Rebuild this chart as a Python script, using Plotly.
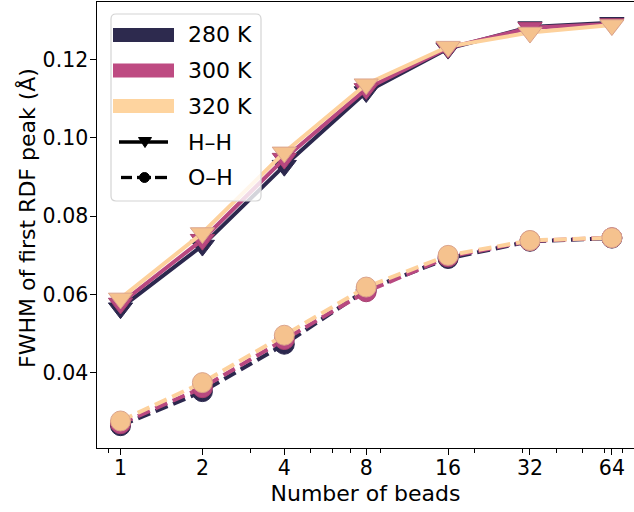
import plotly.graph_objects as go

# ---------------- data ----------------
beads = [1, 2, 4, 8, 16, 32, 64]
temperatures = ["280 K", "300 K", "320 K"]

hh_280 = [0.0565, 0.0725, 0.0929, 0.1117, 0.1228, 0.1283, 0.1294]
hh_300 = [0.0577, 0.0740, 0.0947, 0.1125, 0.1230, 0.1281, 0.1291]
hh_320 = [0.0590, 0.0757, 0.0963, 0.1137, 0.1233, 0.1269, 0.1288]

oh_280 = [0.0265, 0.0352, 0.0473, 0.0612, 0.0692, 0.0736, 0.0744]
oh_300 = [0.0270, 0.0362, 0.0485, 0.0607, 0.0696, 0.0737, 0.0745]
oh_320 = [0.0277, 0.0375, 0.0496, 0.0619, 0.0700, 0.0738, 0.0745]

x_tick_vals = [1, 2, 4, 8, 16, 32, 64]
x_tick_text = ["1", "2", "4", "8", "16", "32", "64"]
x_minor_vals = [0.9, 3, 5, 6, 7, 9, 20, 30, 40, 50, 60, 70]
y_tick_vals = [0.04, 0.06, 0.08, 0.10, 0.12]
y_tick_text = ["0.04", "0.06", "0.08", "0.10", "0.12"]

# ---------------- style ----------------
line_colors = ["#2c284e", "#b84880", "#fdd19c"]
marker_colors = ["#2c284e", "#b84880", "#f5c28e"]
marker_edges = ["#2c284e", "#a8406f", "#dba48c"]
swatch_colors = ["#2d2a4e", "#be4b82", "#fed49f"]
FONT = "DejaVu Sans"
FS = 22
TFS = 20.5

W, H = 634, 512
ML, MR, MT, MB = 97, 0, 2, 64
PW, PH = W - ML - MR, H - MT - MB

fig = go.Figure()

hh_sets = [hh_280, hh_300, hh_320]
oh_sets = [oh_280, oh_300, oh_320]
for i, t in enumerate(temperatures):
    fig.add_trace(go.Scatter(
        x=beads, y=hh_sets[i], mode="lines+markers", name=t + " H–H",
        line=dict(color=line_colors[i], width=4),
        marker=dict(symbol="triangle-down", size=21, color=marker_colors[i],
                    line=dict(color=marker_edges[i], width=1)),
        showlegend=False))
    fig.add_trace(go.Scatter(
        x=beads, y=oh_sets[i], mode="lines+markers", name=t + " O–H",
        line=dict(color=line_colors[i], width=4, dash="13px,6px"),
        marker=dict(symbol="circle", size=20, color=marker_colors[i],
                    line=dict(color=marker_edges[i], width=1)),
        showlegend=False))

# ---------------- custom legend (pixel -> paper) ----------------
def px(xp):
    return (xp - ML) / PW

def py(yp):
    return (H - MB - yp) / PH

shapes = []
annotations = []

x0, x1, y0, y1, r = 111, 261, 14, 201, 5
path = (f"M {px(x0 + r)},{py(y0)} L {px(x1 - r)},{py(y0)} "
        f"Q {px(x1)},{py(y0)} {px(x1)},{py(y0 + r)} "
        f"L {px(x1)},{py(y1 - r)} Q {px(x1)},{py(y1)} {px(x1 - r)},{py(y1)} "
        f"L {px(x0 + r)},{py(y1)} Q {px(x0)},{py(y1)} {px(x0)},{py(y1 - r)} "
        f"L {px(x0)},{py(y0 + r)} Q {px(x0)},{py(y0)} {px(x0 + r)},{py(y0)} Z")
shapes.append(dict(type="path", path=path, xref="paper", yref="paper",
                   fillcolor="rgba(255,255,255,0.8)",
                   line=dict(color="#d4d4d4", width=1.2), layer="above"))

row_y = [35, 70.5, 106, 142, 177.5]
for i, t in enumerate(temperatures):
    cy = row_y[i]
    shapes.append(dict(type="rect", xref="paper", yref="paper",
                       x0=px(113), x1=px(174), y0=py(cy - 7), y1=py(cy + 7),
                       fillcolor=swatch_colors[i], line=dict(width=0), layer="above"))

cy = row_y[3]
shapes.append(dict(type="line", xref="paper", yref="paper",
                   x0=px(119), x1=px(168), y0=py(cy), y1=py(cy),
                   line=dict(color="black", width=3.3), layer="above"))
tri = (f"M {px(138.5)},{py(cy - 4.5)} L {px(151.5)},{py(cy - 4.5)} "
       f"L {px(145)},{py(cy + 5.5)} Z")
shapes.append(dict(type="path", path=tri, xref="paper", yref="paper",
                   fillcolor="black", line=dict(color="black", width=1), layer="above"))

cy = row_y[4]
for a, b in [(121, 132), (155, 167)]:
    shapes.append(dict(type="line", xref="paper", yref="paper",
                       x0=px(a), x1=px(b), y0=py(cy), y1=py(cy),
                       line=dict(color="black", width=3.3), layer="above"))
shapes.append(dict(type="line", xref="paper", yref="paper",
                   x0=px(137), x1=px(151), y0=py(cy), y1=py(cy),
                   line=dict(color="black", width=3.3), layer="above"))
shapes.append(dict(type="circle", xref="paper", yref="paper",
                   x0=px(139.5), x1=px(149.5), y0=py(cy - 5), y1=py(cy + 5),
                   fillcolor="black", line=dict(color="black", width=1), layer="above"))

legend_labels = temperatures + ["H–H", "O–H"]
for lab, cy in zip(legend_labels, row_y):
    annotations.append(dict(text=lab, x=px(186), y=py(cy), xref="paper", yref="paper",
                            xanchor="left", yanchor="middle", showarrow=False,
                            font=dict(family=FONT, size=FS, color="black")))

# y-axis title placed at the reference position
annotations.append(dict(text="FWHM of first RDF peak (Å)", x=px(27), y=py(218),
                        xref="paper", yref="paper", textangle=-90,
                        xanchor="center", yanchor="middle", showarrow=False,
                        font=dict(family=FONT, size=FS, color="black")))

fig.update_layout(
    width=W, height=H,
    margin=dict(l=ML, r=MR, t=MT, b=MB, autoexpand=False),
    paper_bgcolor="white", plot_bgcolor="white",
    font=dict(family=FONT, size=FS, color="black"),
    showlegend=False,
    shapes=shapes, annotations=annotations,
)

fig.update_xaxes(
    type="log", range=[-0.0864, 1.8875],
    tickvals=x_tick_vals, ticktext=x_tick_text,
    ticks="outside", ticklen=5.5, tickwidth=1.2, tickcolor="black",
    ticklabelstandoff=-4,
    minor=dict(tickvals=x_minor_vals, ticks="outside", ticklen=3.5,
               tickwidth=1, tickcolor="black", showgrid=False),
    showline=True, linecolor="black", linewidth=1.3, mirror=True,
    showgrid=False, zeroline=False,
    tickfont=dict(family=FONT, size=TFS),
    title=dict(text="Number of beads", font=dict(family=FONT, size=FS), standoff=6),
)
fig.update_yaxes(
    range=[0.0208, 0.1347],
    tickvals=y_tick_vals, ticktext=y_tick_text,
    ticks="outside", ticklen=5.5, tickwidth=1.2, tickcolor="black",
    ticklabelstandoff=-2,
    showline=True, linecolor="black", linewidth=1.3, mirror=False,
    showgrid=False, zeroline=False,
    tickfont=dict(family=FONT, size=TFS),
)

fig.write_html("out.html", post_script="document.body.style.margin='0px';",
               config={"displayModeBar": False})
